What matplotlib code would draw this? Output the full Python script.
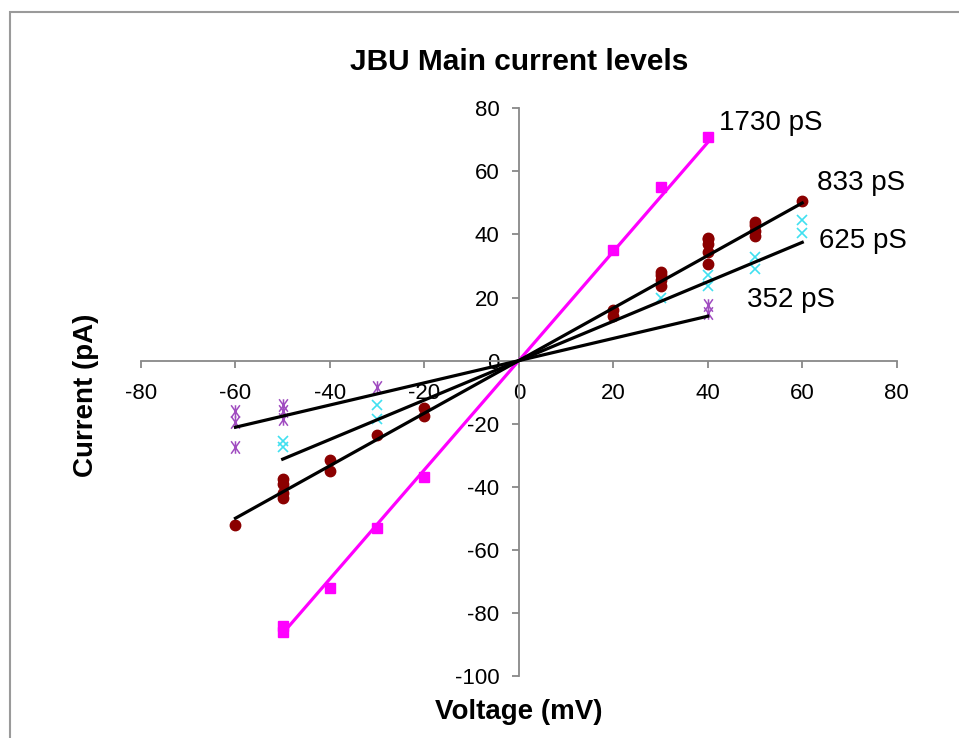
import matplotlib
matplotlib.use("Agg")
import matplotlib.pyplot as plt
import numpy as np
from matplotlib.patches import Rectangle
from matplotlib.path import Path

plt.rcParams['font.family'] = ['Liberation Sans', 'DejaVu Sans']

# ---- data ----
g1730_x = [-50, -50, -40, -30, -20, 20, 30, 40]
g1730_y = [-84, -86, -72, -53, -37, 35, 55, 71]

g833_x = [-60, -50, -50, -50, -50, -40, -40, -30, -20, -20, 20, 20,
          30, 30, 30, 30, 40, 40, 40, 40, 40, 50, 50, 50, 50, 60]
g833_y = [-52, -37.5, -39, -42, -43.5, -31.5, -35, -23.6, -15, -17.5, 14.2, 16,
          23.5, 25.5, 27, 28, 30.5, 34.5, 37, 38.5, 39, 39.5, 41, 43, 44, 50.7]

g625_x = [-50, -50, -30, -30, 30, 40, 40, 50, 50, 60, 60]
g625_y = [-25.5, -27.5, -14, -18.5, 20, 27, 23.5, 33, 29, 44.5, 40.5]

g352_x = [-60, -60, -60, -50, -50, -50, -30, 40, 40]
g352_y = [-16, -19.5, -27.5, -14, -16, -18.5, -8.5, 17.5, 15]

conductance_labels = ["1730 pS", "833 pS", "625 pS", "352 pS"]
slopes = [1.730, 0.833, 0.625, 0.352]          # pA/mV
fit_ranges = [(-50, 40), (-60, 60), (-50, 60), (-60, 40)]

x_ticks = [-80, -60, -40, -20, 0, 20, 40, 60, 80]
y_ticks = [-100, -80, -60, -40, -20, 0, 20, 40, 60, 80]

# Excel-style star marker: an X with a vertical bar
star = Path([(-0.7, -1), (0.7, 1), (-0.7, 1), (0.7, -1), (0, -1), (0, 1)],
            [Path.MOVETO, Path.LINETO, Path.MOVETO, Path.LINETO, Path.MOVETO, Path.LINETO])

# ---- figure ----
fig = plt.figure(figsize=(9.59, 7.38), dpi=100)
fig.patches.append(Rectangle((10 / 959, -0.1), 1.2, 1 - 12 / 738 + 0.1,
                             transform=fig.transFigure, fill=False,
                             edgecolor='#9a9a9a', linewidth=1.5))

ax = fig.add_axes([141 / 959, 1 - 676 / 738, (896.7 - 141) / 959, (676 - 108.3) / 738])
ax.set_xlim(-80, 80)
ax.set_ylim(-100, 80)

# markers
ax.plot(g352_x, g352_y, linestyle='none', marker=star, markersize=9,
        markeredgecolor='#A04CC0', markerfacecolor='none', markeredgewidth=1.1, zorder=3)
ax.plot(g625_x, g625_y, linestyle='none', marker='x', markersize=7,
        markeredgecolor='#40E0F0', markeredgewidth=1.2, zorder=3)
ax.plot(g833_x, g833_y, linestyle='none', marker='o', markersize=7.5,
        color='#8B0000', zorder=3)
ax.plot(g1730_x, g1730_y, linestyle='none', marker='s', markersize=7,
        color='#FF00FF', zorder=3)

# fitted lines
colors = ['#FF00FF', 'black', 'black', 'black']
for s, (x0, x1), c in zip(slopes, fit_ranges, colors):
    xs = np.array([x0, x1])
    ax.plot(xs, s * xs, color=c, linewidth=2.3, zorder=4)

# label annotations
label_pos = [(42.3, 75.3), (63.1, 56.3), (63.5, 37.9), (48.3, 19.2)]
for lab, (lx, ly) in zip(conductance_labels, label_pos):
    ax.text(lx, ly, lab, fontsize=20, ha='left', va='center', color='black')

# spines at zero
for side in ['top', 'right']:
    ax.spines[side].set_visible(False)
ax.spines['left'].set_position(('data', 0))
ax.spines['bottom'].set_position(('data', 0))
for side in ['left', 'bottom']:
    ax.spines[side].set_color('#888888')
    ax.spines[side].set_linewidth(1.3)

ax.set_xticks(x_ticks)
ax.set_yticks(y_ticks)
ax.set_xticklabels([str(v) for v in x_ticks])
ax.set_yticklabels([str(v) for v in y_ticks])
ax.tick_params(axis='x', direction='out', length=5, color='#888888', width=1.3,
               labelsize=16, pad=11)
ax.tick_params(axis='y', direction='out', length=5, color='#888888', width=1.3,
               labelsize=16, pad=9)
ax.patch.set_alpha(0)

fig.text(519 / 959, 1 - 62 / 738, 'JBU Main current levels', ha='center', va='center',
         fontsize=21.5, fontweight='bold')
fig.text(86 / 959, 1 - 395 / 738, 'Current (pA)', ha='center', va='center',
         rotation=90, fontsize=20, fontweight='bold')
fig.text(519 / 959, 1 - 712 / 738, 'Voltage (mV)', ha='center', va='center',
         fontsize=20, fontweight='bold')

fig.savefig('out.png', dpi=100)
